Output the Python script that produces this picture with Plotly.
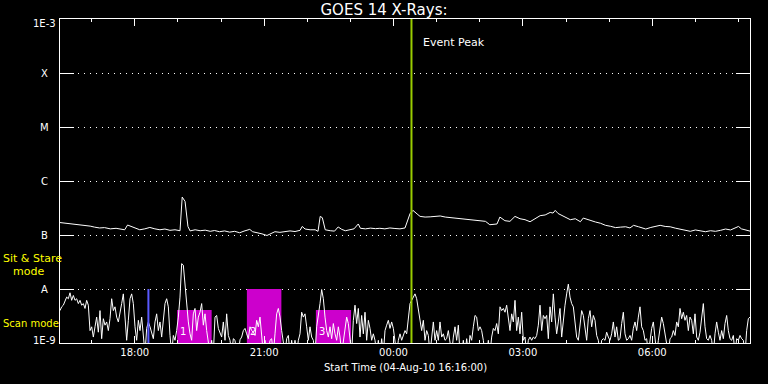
import numpy as np
import pandas as pd
import plotly.graph_objects as go

# ---------------- data ----------------
start_time = "2010-08-04 16:16"
end_minutes = 960

# long channel flux (W/m^2): minutes after start, flux
hi_minutes = [0, 7, 13, 20, 28, 35, 42, 48, 55, 62, 70, 78, 85, 90, 94, 99, 105, 111, 118, 125,
              132, 139, 146, 153, 160, 167, 170, 172, 174, 178, 181, 188, 195, 202, 209, 215, 222, 229, 236, 243,
              250, 256, 260, 264, 268, 275, 281, 288, 293, 299, 306, 313, 320, 327, 334, 337, 341, 348, 355, 359,
              362, 365, 369, 376, 382, 387, 392, 397, 403, 409, 415, 418, 425, 432, 439, 445, 452, 459, 466, 473,
              480, 484, 487, 491, 494, 498, 501, 508, 515, 522, 529, 536, 543, 550, 557, 564, 571, 578, 585, 592,
              598, 603, 608, 612, 616, 619, 626, 633, 640, 647, 654, 661, 668, 675, 682, 686, 689, 693, 696, 703,
              710, 717, 724, 728, 735, 745, 752, 759, 766, 773, 780, 787, 793, 798, 805, 810, 815, 822, 829, 835,
              842, 849, 856, 863, 870, 877, 884, 891, 898, 905, 912, 919, 926, 933, 939, 944, 948, 953, 958, 960]
hi_flux = [1.70e-7, 1.66e-7, 1.62e-7, 1.60e-7, 1.55e-7, 1.52e-7, 1.46e-7, 1.40e-7, 1.35e-7, 1.37e-7,
           1.30e-7, 1.33e-7, 1.28e-7, 1.25e-7, 1.53e-7, 1.45e-7, 1.35e-7, 1.25e-7, 1.30e-7, 1.38e-7,
           1.30e-7, 1.25e-7, 1.29e-7, 1.22e-7, 1.25e-7, 1.20e-7, 5.05e-7, 4.60e-7, 4.19e-7, 1.44e-7,
           1.19e-7, 1.25e-7, 1.20e-7, 1.23e-7, 1.17e-7, 1.21e-7, 1.15e-7, 1.19e-7, 1.13e-7, 1.17e-7,
           1.10e-7, 1.18e-7, 1.22e-7, 1.27e-7, 1.15e-7, 1.10e-7, 1.05e-7, 0.98e-7, 1.06e-7, 1.15e-7,
           1.12e-7, 1.17e-7, 1.19e-7, 1.16e-7, 1.22e-7, 1.44e-7, 1.29e-7, 1.25e-7, 1.25e-7, 1.17e-7,
           2.21e-7, 2.09e-7, 1.25e-7, 1.20e-7, 1.18e-7, 1.41e-7, 1.27e-7, 1.20e-7, 1.25e-7, 1.30e-7,
           1.60e-7, 1.33e-7, 1.30e-7, 1.34e-7, 1.31e-7, 1.33e-7, 1.30e-7, 1.35e-7, 1.32e-7, 1.30e-7,
           1.35e-7, 1.98e-7, 2.48e-7, 2.86e-7, 2.60e-7, 2.38e-7, 2.21e-7, 2.15e-7, 2.17e-7, 2.19e-7,
           2.25e-7, 2.15e-7, 2.10e-7, 2.06e-7, 2.02e-7, 1.95e-7, 1.92e-7, 1.88e-7, 1.84e-7, 1.79e-7,
           1.55e-7, 1.58e-7, 1.60e-7, 2.15e-7, 1.95e-7, 1.84e-7, 1.79e-7, 2.21e-7, 2.00e-7, 1.92e-7,
           1.76e-7, 2.00e-7, 2.28e-7, 2.35e-7, 2.62e-7, 2.55e-7, 2.86e-7, 2.50e-7, 2.38e-7, 2.15e-7,
           1.92e-7, 2.00e-7, 1.76e-7, 2.06e-7, 1.90e-7, 1.74e-7, 1.65e-7, 1.51e-7, 1.45e-7, 1.37e-7,
           1.40e-7, 1.42e-7, 1.35e-7, 1.51e-7, 1.42e-7, 1.36e-7, 1.29e-7, 1.38e-7, 1.45e-7, 1.51e-7,
           1.44e-7, 1.42e-7, 1.34e-7, 1.27e-7, 1.22e-7, 1.17e-7, 1.24e-7, 1.19e-7, 1.15e-7, 1.20e-7,
           1.17e-7, 1.22e-7, 1.29e-7, 1.24e-7, 1.35e-7, 1.44e-7, 1.30e-7, 1.25e-7, 1.22e-7, 1.18e-7]

# short channel, log10 flux, evenly sampled over the 16 h window
lo_log = [
    -8.40, -8.33, -8.30, -8.21, -8.15, -8.18, -8.07, -8.21, -8.12, -8.21, -8.18, -8.27, -8.21, -8.30, -8.27, -8.36,
    -8.21, -8.30, -8.77, -8.70, -8.89, -8.70, -8.52, -8.80, -8.40, -8.92, -8.55, -8.67, -8.61, -8.77, -8.55, -8.18,
    -8.40, -8.33, -8.52, -8.61, -8.46, -8.27, -8.09, -8.52, -8.95, -8.58, -8.18, -8.09, -8.27, -8.70, -8.95, -8.58,
    -8.77, -8.52, -8.95, -9.20, -8.73, -8.61, -8.70, -8.83, -8.92, -8.61, -8.46, -8.77, -8.61, -8.89, -8.52, -8.27,
    -8.18, -8.33, -8.86, -9.20, -8.86, -8.95, -8.77, -8.52, -8.15, -7.53, -7.56, -7.90, -8.33, -8.61, -8.83, -8.95,
    -8.46, -8.36, -8.77, -8.52, -8.43, -8.27, -8.67, -8.46, -8.77, -8.95, -9.20, -8.95, -9.20, -8.52, -8.49, -8.73,
    -8.83, -8.89, -8.61, -8.95, -8.46, -8.86, -8.95, -9.20, -8.92, -8.95, -9.20, -9.20, -8.94, -8.89, -8.77, -8.73,
    -8.83, -8.92, -8.70, -8.77, -8.80, -8.86, -8.58, -8.70, -8.52, -8.83, -9.20, -8.95, -9.20, -9.20, -8.95, -8.92,
    -9.20, -8.83, -8.46, -8.36, -8.52, -8.77, -8.95, -9.20, -8.92, -8.86, -9.20, -8.95, -9.20, -8.95, -9.20, -8.95,
    -8.83, -8.43, -8.52, -8.46, -8.70, -8.95, -8.70, -8.89, -8.95, -9.20, -8.70, -8.52, -8.27, -8.01, -8.18, -8.52,
    -8.77, -8.89, -8.70, -8.92, -8.64, -8.83, -8.95, -8.70, -8.89, -9.20, -8.95, -8.77, -8.52, -8.64, -8.92, -9.20,
    -8.58, -8.30, -8.64, -8.36, -8.89, -8.49, -8.83, -8.43, -8.95, -8.58, -8.73, -8.95, -8.83, -8.95, -9.20, -8.95,
    -9.20, -8.92, -9.20, -8.77, -8.67, -8.58, -8.73, -8.61, -8.73, -8.95, -9.20, -8.95, -8.83, -8.95, -8.86, -8.77,
    # after ~23:10
    -8.83, -8.58, -8.27, -8.21, -8.15, -8.09, -8.18, -8.40, -8.55, -8.77, -8.58, -8.95, -8.77, -8.86, -9.20, -8.89,
    -8.61, -8.95, -8.77, -8.95, -8.61, -8.89, -8.83, -8.95, -8.92, -8.77, -8.95, -9.20, -8.89, -8.70, -8.95, -8.67,
    -9.20, -9.20, -8.95, -9.20, -8.92, -9.20, -8.86, -8.95, -8.70, -8.49, -8.52, -8.77, -8.70, -8.77, -8.95, -9.20,
    -9.20, -8.95, -9.20, -8.89, -8.73, -8.77, -8.64, -8.83, -8.33, -8.40, -8.36, -8.43, -8.30, -8.52, -8.77, -8.46,
    -8.61, -8.21, -8.77, -8.52, -8.83, -8.43, -8.95, -8.89, -9.20, -8.95, -8.89, -8.95, -8.89, -8.92, -8.86, -8.67,
    -8.30, -8.77, -8.49, -8.55, -8.49, -8.92, -8.33, -8.61, -8.09, -8.52, -8.83, -8.61, -8.36, -8.89, -8.52, -8.30,
    -8.09, -7.91, -8.15, -8.27, -8.33, -8.67, -8.89, -8.95, -8.67, -8.40, -8.49, -8.77, -8.95, -8.55, -8.40, -8.70,
    -8.49, -8.58, -8.86, -8.95, -9.20, -8.95, -8.92, -8.95, -8.80, -8.89, -8.95, -8.83, -8.61, -8.89, -8.70, -8.95,
    -8.92, -8.64, -8.43, -8.83, -8.95, -8.92, -8.86, -8.95, -8.73, -8.61, -8.77, -8.52, -8.33, -8.70, -8.77, -8.95,
    -8.92, -9.20, -8.92, -8.73, -8.61, -8.95, -9.20, -8.95, -8.77, -8.52, -8.64, -8.83, -8.95, -9.20, -8.92, -8.89,
    -8.77, -8.86, -8.61, -8.70, -8.36, -8.55, -8.43, -8.58, -8.49, -8.77, -8.52, -8.58, -8.83, -8.46, -8.89, -8.95,
    -8.80, -8.52, -8.27, -8.70, -8.92, -8.95, -8.86, -8.95, -9.20, -8.83, -8.61, -8.80, -8.95, -8.77, -8.92, -8.64,
    -8.49, -8.77, -8.92, -8.95, -8.86, -9.20, -8.92, -8.95, -8.86, -8.92, -8.95, -9.20, -8.77, -8.55, -8.52,
]

# scan-mode intervals
scan_start = ["2010-08-04 18:59", "2010-08-04 20:36", "2010-08-04 22:12"]
scan_end = ["2010-08-04 19:47", "2010-08-04 21:24", "2010-08-04 23:01"]
scan_top = [4.1e-9, 1.0e-8, 4.1e-9]
scan_labels = ["1", "2", "3"]

event_peak = "2010-08-05 00:25"
mode_change = "2010-08-04 18:19"

y_tick_vals = [1e-3, 1e-4, 1e-5, 1e-6, 1e-7, 1e-8, 1e-9]
y_tick_text = ["1E-3", "X", "M", "C", "B", "A", "1E-9"]

# ---------------- build ----------------
W, H = 768, 384
L, R, T, B = 60, 18, 19, 41
PW, PH = W - L - R, H - T - B


def px_x(px):
    return (px - L) / PW


def px_y(py):
    return (H - B - py) / PH


t0 = pd.Timestamp(start_time)
t_end = t0 + pd.Timedelta(minutes=end_minutes)
hi_t = [t0 + pd.Timedelta(minutes=m) for m in hi_minutes]
lo_t = pd.date_range(t0, t_end, periods=len(lo_log))
lo_flux = [10 ** v for v in lo_log]

FONT = "DejaVu Sans"
fig = go.Figure()

for s, e, top in zip(scan_start, scan_end, scan_top):
    fig.add_trace(go.Scatter(x=[s, s, e, e, s], y=[1e-9, top, top, 1e-9, 1e-9], mode="lines",
                             fill="toself", fillcolor="#cc00cc", line=dict(width=0, color="#cc00cc"),
                             hoverinfo="skip", showlegend=False))

fig.add_trace(go.Scatter(x=hi_t, y=hi_flux, mode="lines", line=dict(color="white", width=1), showlegend=False))
fig.add_trace(go.Scatter(x=lo_t, y=lo_flux, mode="lines", line=dict(color="white", width=1), showlegend=False))

fig.add_trace(go.Scatter(x=[mode_change, mode_change], y=[1e-9, 1e-8], mode="lines",
                         line=dict(color="#5a5aff", width=2), showlegend=False))
fig.add_trace(go.Scatter(x=[event_peak, event_peak], y=[1e-9, 1e-3], mode="lines",
                         line=dict(color="#99cc00", width=2), showlegend=False))

ann = []
for v, txt in zip(y_tick_vals, y_tick_text):
    shift = 0
    if v == y_tick_vals[0]:
        shift = -4
    if v == y_tick_vals[-1]:
        shift = 3
    ann.append(dict(x=px_x(44.5), xref="paper", y=np.log10(v), yref="y", text=txt, showarrow=False,
                    xanchor="center", yanchor="middle", yshift=shift,
                    font=dict(family=FONT, size=10, color="white")))

for s, lab in zip(scan_start, scan_labels):
    ann.append(dict(x=s, xref="x", y=px_y(331), yref="paper", text=lab, showarrow=False, xanchor="left",
                    yanchor="middle", xshift=1, font=dict(family=FONT, size=10, color="white")))

ann.append(dict(x=event_peak, xref="x", y=px_y(42.8), yref="paper", text="Event Peak", showarrow=False,
                xanchor="left", yanchor="middle", xshift=10, font=dict(family=FONT, size=11, color="white")))
ann.append(dict(x=px_x(405), xref="paper", y=px_y(368), yref="paper", text="Start Time (04-Aug-10 16:16:00)",
                showarrow=False, xanchor="center", yanchor="middle", font=dict(family=FONT, size=10, color="white")))
ann.append(dict(x=px_x(1), xref="paper", y=px_y(258.7), yref="paper", text="Sit & Stare",
                showarrow=False, xanchor="left", yanchor="middle", font=dict(family=FONT, size=11, color="#ffff00")))
ann.append(dict(x=px_x(11), xref="paper", y=px_y(271), yref="paper", text="mode",
                showarrow=False, xanchor="left", yanchor="middle", font=dict(family=FONT, size=11, color="#ffff00")))
ann.append(dict(x=px_x(1), xref="paper", y=px_y(323.5), yref="paper", text="Scan mode",
                showarrow=False, xanchor="left", yanchor="middle", font=dict(family=FONT, size=10, color="#ffff00")))

fig.update_layout(
    width=W, height=H,
    margin=dict(l=L, r=R, t=T, b=B),
    paper_bgcolor="black", plot_bgcolor="black",
    title=dict(text="GOES 14 X-Rays:", x=0.5, xref="container", y=1 - 10 / H, yref="container",
               xanchor="center", yanchor="middle",
               font=dict(family=FONT, size=15, color="white", weight="normal")),
    annotations=ann,
    showlegend=False,
)
fig.update_xaxes(
    type="date", range=[t0, t_end],
    tick0="2010-08-04 18:00", dtick=3 * 3600000, tickformat="%H:%M",
    ticks="inside", ticklen=7, tickwidth=1, tickcolor="white",
    showline=True, linecolor="white", linewidth=1, mirror="ticks",
    showgrid=False, zeroline=False,
    tickfont=dict(family=FONT, size=10, color="white"),
    minor=dict(tick0="2010-08-04 16:00", dtick=3600000, ticks="inside", ticklen=3, tickcolor="white",
               showgrid=False),
)
fig.update_yaxes(
    type="log", range=[-9, -3],
    tickvals=y_tick_vals, ticktext=y_tick_text, showticklabels=False,
    ticks="inside", ticklen=14, tickwidth=1, tickcolor="white",
    showline=True, linecolor="white", linewidth=1, mirror="ticks",
    showgrid=True, gridcolor="white", gridwidth=1, griddash="1px,5px", zeroline=False,
)

fig.write_html("out.html")
